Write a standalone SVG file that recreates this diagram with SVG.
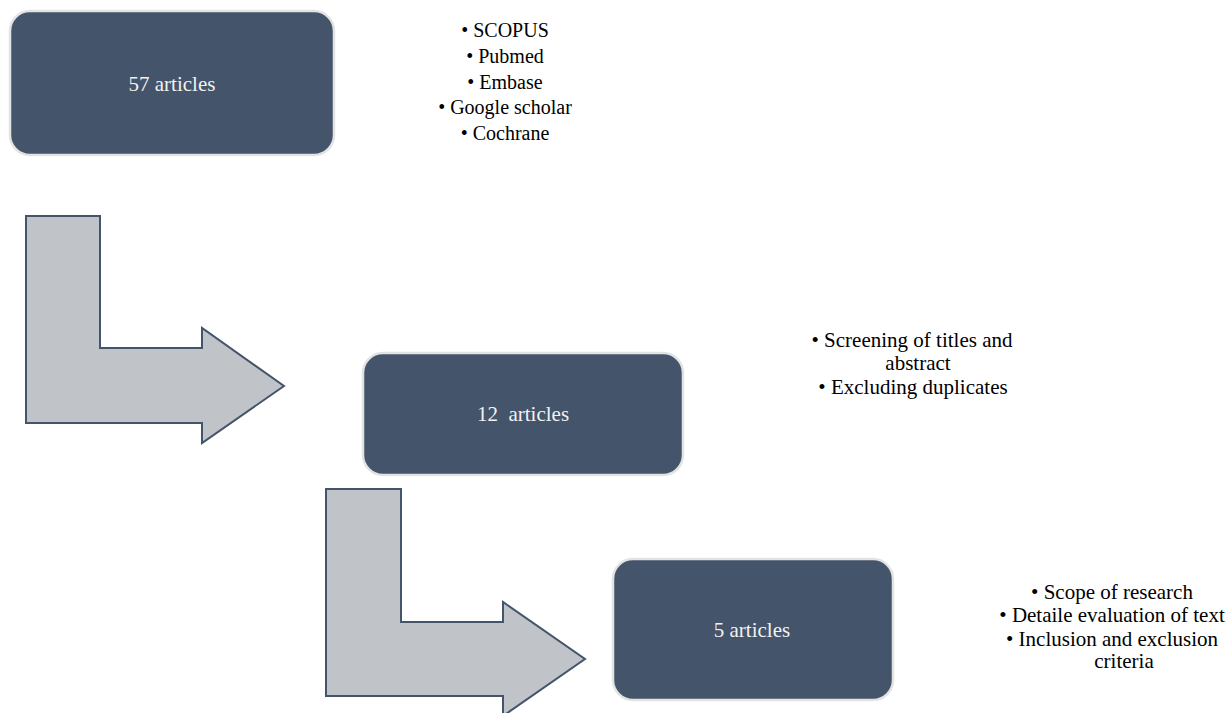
<svg xmlns="http://www.w3.org/2000/svg" width="1228" height="713" viewBox="0 0 1228 713">
<style>
.box{fill:#44546A;stroke:#E3E3E3;stroke-width:2.5}
.lbl{font-family:'Liberation Serif','Times New Roman',serif;font-size:21px;fill:#F2F2F2;text-anchor:middle}
.lst{font-family:'Liberation Serif','Times New Roman',serif;font-size:21px;fill:#000;text-anchor:middle}
.l1{font-size:20px}
.arr{fill:#C0C4C9;stroke:#44546A;stroke-width:2;stroke-linejoin:miter}
</style>
<rect width="1228" height="713" fill="#fff"/>
<g id="connectors">
<polygon class="arr" points="26,216 100,216 100,348 202,348 202,328 284,386 202,443 202,423 26,423"/>
<polygon class="arr" points="326,489 401,489 401,622 503,622 503,602 585,659 503,716 503,696 326,696"/>
</g>
<g id="node1">
<rect class="box" x="10" y="11" width="324" height="144" rx="20"/>
<text class="lbl" x="172" y="91">57 articles</text>
</g>
<g id="list1">
<text class="lst l1" x="505" y="37">• SCOPUS</text>
<text class="lst l1" x="505" y="63">• Pubmed</text>
<text class="lst l1" x="505" y="89">• Embase</text>
<text class="lst l1" x="505" y="114">• Google scholar</text>
<text class="lst l1" x="505" y="140">• Cochrane</text>
</g>
<g id="node2">
<rect class="box" x="363" y="353" width="320" height="122" rx="20"/>
<text class="lbl" x="523" y="421" xml:space="preserve">12  articles</text>
</g>
<g id="list2">
<text class="lst" x="912" y="347">• Screening of titles and</text>
<text class="lst" x="918" y="370">abstract</text>
<text class="lst" x="913" y="394">• Excluding duplicates</text>
</g>
<g id="node3">
<rect class="box" x="613" y="559" width="280" height="141" rx="20"/>
<text class="lbl" x="752" y="637">5 articles</text>
</g>
<g id="list3">
<text class="lst" x="1112" y="599">• Scope of research</text>
<text class="lst" x="1112" y="622">• Detaile evaluation of text</text>
<text class="lst" x="1112" y="646">• Inclusion and exclusion</text>
<text class="lst" x="1124" y="668">criteria</text>
</g>
</svg>
